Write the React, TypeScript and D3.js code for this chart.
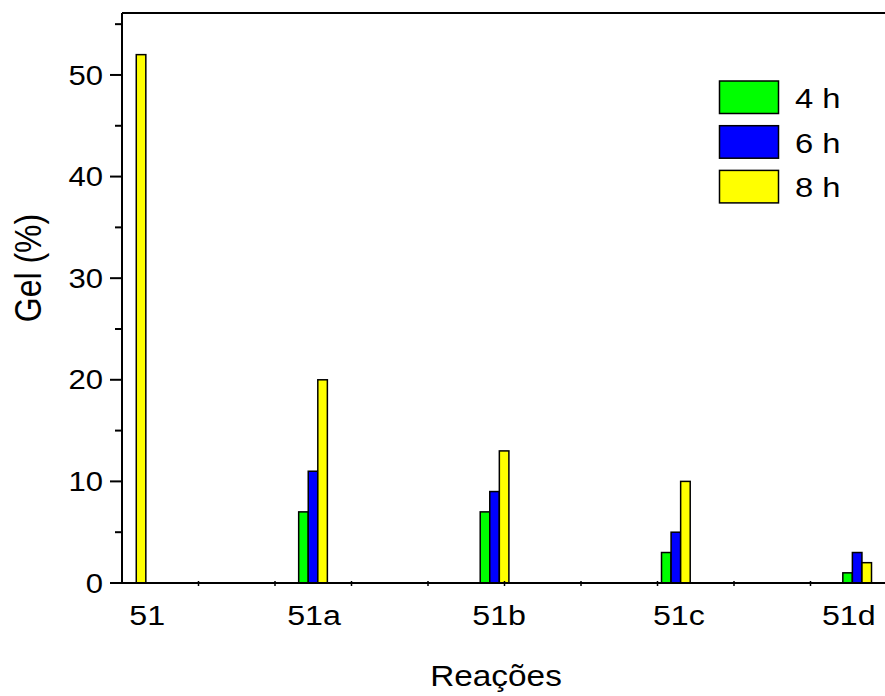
import React from "react";
import * as d3 from "d3";

const categories = ["51", "51a", "51b", "51c", "51d"];
const groupPos = [0.124, 2.497, 4.87, 7.24, 9.61];
const labelPos = [0.33, 2.51, 4.93, 7.28, 9.5];
const series = ["4 h", "6 h", "8 h"];
const colors = ["#00ff00", "#0000ff", "#ffff00"];
const values4h = [0, 7, 7, 3, 1];
const values6h = [0, 11, 9, 5, 3];
const values8h = [52, 20, 13, 10, 2];
const yMajorTicks = [0, 10, 20, 30, 40, 50];
const yMinorTicks = [5, 15, 25, 35, 45, 55];
const xMinorTicks = [1, 2, 3, 4, 5, 6, 7, 8, 9];

const W = 885;
const H = 696;
const left = 122;
const right = 885;
const top = 13;
const bottom = 583;
const SX = 1.15;
const FONT = "'Liberation Sans', Arial, Helvetica, sans-serif";

export default function App() {
  const x = d3.scaleLinear().domain([0, 10]).range([left, 887]);
  const y = d3.scaleLinear().domain([0, 56]).range([bottom, 14]);
  const bw = 0.125;
  const allValues = [values4h, values6h, values8h];

  const T = (props: { x: number; y: number; anchor?: string; size: number; children: React.ReactNode; rotate?: boolean }) => (
    <text
      transform={
        props.rotate
          ? `translate(${props.x},${props.y}) scale(${SX},1) rotate(-90)`
          : `translate(${props.x},${props.y}) scale(${SX},1)`
      }
      textAnchor={props.anchor || "start"}
      fontSize={props.size}
      fontFamily={FONT}
      fill="#000"
    >
      {props.children}
    </text>
  );

  return (
    <svg width={W} height={H} style={{ position: "absolute", left: 0, top: 0, background: "#fff" }}>
      <rect x={0} y={0} width={W} height={H} fill="#fff" />
      {allValues.map((vals, si) =>
        vals.map((v, ci) => {
          if (v <= 0) return null;
          const x0 = x(groupPos[ci] + (si - 1.5) * bw);
          const x1 = x(groupPos[ci] + (si - 0.5) * bw);
          return (
            <rect
              key={`${si}-${ci}`}
              x={x0}
              y={y(v)}
              width={x1 - x0}
              height={y(0) - y(v)}
              fill={colors[si]}
              stroke="#000"
              strokeWidth={1.5}
            />
          );
        })
      )}
      <line x1={left} x2={right} y1={top} y2={top} stroke="#000" strokeWidth={2} />
      <line x1={left} x2={left} y1={top} y2={bottom + 1} stroke="#000" strokeWidth={2} />
      <line x1={left - 1} x2={right} y1={bottom} y2={bottom} stroke="#000" strokeWidth={2.2} />
      {yMajorTicks.map((t) => (
        <g key={`ym${t}`}>
          <line x1={left - 12} x2={left} y1={y(t)} y2={y(t)} stroke="#000" strokeWidth={2} />
          <T x={left - 19} y={y(t) + 9.7} anchor="end" size={27}>
            {t}
          </T>
        </g>
      ))}
      {yMinorTicks.map((t) => (
        <line key={`yn${t}`} x1={left - 7} x2={left} y1={y(t)} y2={y(t)} stroke="#000" strokeWidth={2} />
      ))}
      {xMinorTicks.map((t) => (
        <line key={`xn${t}`} x1={x(t)} x2={x(t)} y1={bottom - 2} y2={bottom + 3} stroke="#000" strokeWidth={1.5} />
      ))}
      {categories.map((c, i) => (
        <T key={c} x={x(labelPos[i])} y={625} anchor="middle" size={28}>
          {c}
        </T>
      ))}
      <T x={496} y={686} anchor="middle" size={29}>
        Reações
      </T>
      <T x={41} y={268} anchor="middle" size={32} rotate>
        Gel (%)
      </T>
      {series.map((s, i) => (
        <g key={s}>
          <rect
            x={719.5}
            y={81 + i * 44.7}
            width={59}
            height={32.5}
            fill={colors[i]}
            stroke="#000"
            strokeWidth={1.5}
          />
          <T x={795} y={108 + i * 44.7} size={28.5}>
            {s}
          </T>
        </g>
      ))}
    </svg>
  );
}
